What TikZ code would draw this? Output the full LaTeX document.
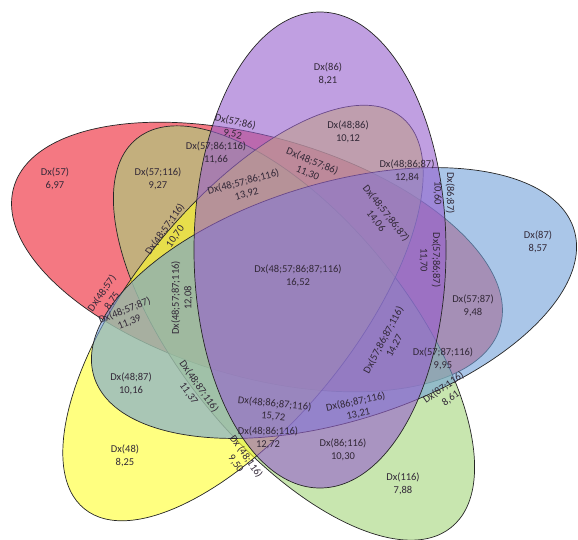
\documentclass[tikz,border=0pt]{standalone}
\usepackage{fontspec}
\setmainfont{Carlito}
\usepackage{xcolor}
\definecolor{setred}{RGB}{237,30,47}
\definecolor{setpurple}{RGB}{150,95,205}
\definecolor{setblue}{RGB}{113,160,217}
\definecolor{setgreen}{RGB}{163,213,122}
\definecolor{setyellow}{RGB}{255,255,43}
\definecolor{lbltext}{RGB}{50,40,55}

\begin{document}
\begin{tikzpicture}[x=1pt,y=-1pt,
  setline/.style={draw=black!85,line width=0.7pt,fill opacity=0.6},
  lbl/.style={font=\fontsize{10.5}{12.5}\selectfont,text=lbltext,align=center,inner sep=0pt}]
\useasboundingbox (0,0) rectangle (578,539);

% 五个椭圆
\draw[setline,fill=setred,rotate around={-16:(257,257)}] (257,257) ellipse (253 and 120);
\draw[setline,fill=setgreen,rotate around={-51:(294,333)}] (294,333) ellipse (250 and 114);
\draw[setline,fill=setyellow,rotate around={51:(243,313)}] (243,313) ellipse (252 and 110);
\draw[setline,fill=setblue,rotate around={17:(334,303)}] (334,303) ellipse (251 and 119);
\draw[setline,fill=setpurple,rotate around={90:(320,250)}] (320,250) ellipse (238 and 126);

% 单个集合
\node[lbl] (n57) at (55,179) {Dx(57)\\6,97};
\node[lbl] (n86) at (328,74) {Dx(86)\\8,21};
\node[lbl] (n87) at (538,242) {Dx(87)\\8,57};
\node[lbl] (n116) at (403,484) {Dx(116)\\7,88};
\node[lbl] (n48) at (125,456) {Dx(48)\\8,25};

% 两个集合
\node[lbl] (n4886) at (348,132) {Dx(48;86)\\10,12};
\node[lbl,rotate=-12] (n5786) at (234,128) {Dx(57;86)\\9,52};
\node[lbl,rotate=-90] (n8687) at (444,193) {Dx(86;87)\\10,60};
\node[lbl] (n5787) at (473,306) {Dx(57;87)\\9,48};
\node[lbl,rotate=35] (n87116) at (447,393) {Dx(87;116)\\8,61};
\node[lbl] (n86116) at (343,450) {Dx(86;116)\\10,30};
\node[lbl,rotate=-55] (n48116) at (241,460) {Dx (48;116)\\9,50};
\node[lbl] (n4887) at (131,384) {Dx(48;87)\\10,16};
\node[lbl,rotate=55] (n4857) at (107,297) {Dx(48;57)\\8,75};
\node[lbl] (n57116) at (158,179) {Dx(57;116)\\9,27};

% 三个集合
\node[lbl] (n578616) at (216,153) {Dx(57;86;116)\\11,66};
\node[lbl,rotate=-22] (n485786) at (310,167) {Dx(48;57;86)\\11,30};
\node[lbl] (n488687) at (407,171) {Dx(48;86;87)\\12,84};
\node[lbl,rotate=-90] (n578687) at (430,260) {Dx(57;86;87)\\11,70};
\node[lbl] (n5787116) at (443,359) {Dx(57;87;116)\\9,95};
\node[lbl,rotate=12] (n8687116) at (357,408) {Dx(86;87;116)\\13,21};
\node[lbl] (n4886116) at (268,438) {Dx(48;86;116)\\12,72};
\node[lbl,rotate=-55] (n4887116) at (194,390) {Dx(48;87;116)\\11,37};
\node[lbl,rotate=22] (n485787) at (127,316) {Dx(48;57;87)\\11,39};
\node[lbl,rotate=55] (n4857116) at (170,233) {Dx(48;57;116)\\10,70};

% 四个集合
\node[lbl,rotate=15] (n48578616) at (245,188) {Dx(48;57;86;116)\\13,92};
\node[lbl,rotate=-52] (n48578687) at (381,217) {Dx(48;57;86;87)\\14,06};
\node[lbl,rotate=62] (n578687116) at (389,343) {Dx(57;86;87;116)\\14,27};
\node[lbl,rotate=-6] (n488687116) at (274,410) {Dx(48;86;87;116)\\15,72};
\node[lbl,rotate=90] (n485787116) at (182,298) {Dx(48;57;87;116)\\12,08};

% 五个集合
\node[lbl] (nall) at (298,276) {Dx(48;57;86;87;116)\\16,52};
\end{tikzpicture}
\end{document}
